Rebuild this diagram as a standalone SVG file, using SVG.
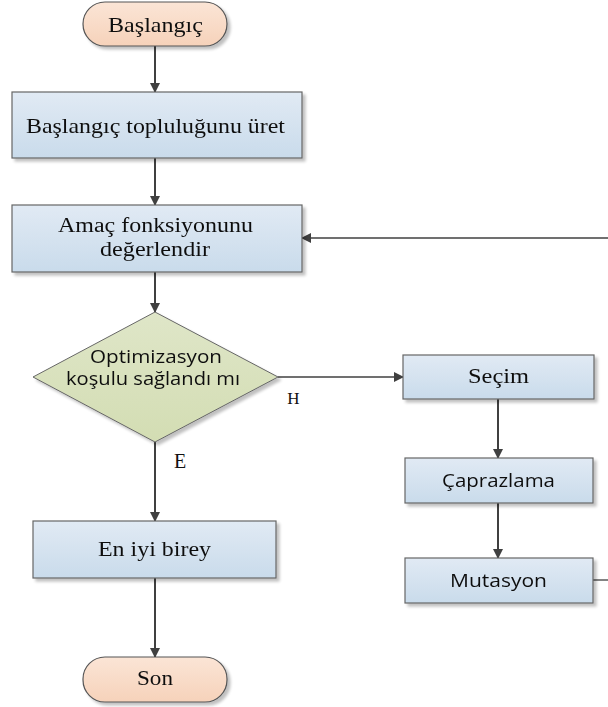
<svg xmlns="http://www.w3.org/2000/svg" width="608" height="707" viewBox="0 0 608 707">
<defs>
<linearGradient id="gTerm" x1="0" y1="0" x2="0" y2="1">
<stop offset="0" stop-color="#fbe5d6"/>
<stop offset="1" stop-color="#f6d2ba"/>
</linearGradient>
<linearGradient id="gBox" x1="0" y1="0" x2="0" y2="1">
<stop offset="0" stop-color="#e1eaf4"/>
<stop offset="1" stop-color="#c9dbeb"/>
</linearGradient>
<linearGradient id="gDia" x1="0" y1="0" x2="0" y2="1">
<stop offset="0" stop-color="#dfe6c8"/>
<stop offset="1" stop-color="#d3ddb3"/>
</linearGradient>
<filter id="sh" x="-10%" y="-10%" width="130%" height="140%">
<feGaussianBlur in="SourceAlpha" stdDeviation="1.5"/>
<feOffset dx="3" dy="3" result="b"/>
<feComponentTransfer><feFuncA type="linear" slope="0.25"/></feComponentTransfer>
<feMerge><feMergeNode/><feMergeNode in="SourceGraphic"/></feMerge>
</filter>
<marker id="arr" markerWidth="10" markerHeight="10" refX="9" refY="5" orient="auto" markerUnits="userSpaceOnUse">
<path d="M0,0 L10,5 L0,10 Z" fill="#404040"/>
</marker>
</defs>
<style>
.term{fill:url(#gTerm);stroke:#555;stroke-width:1.2}
.box{fill:url(#gBox);stroke:#666;stroke-width:1.2}
.dia{fill:url(#gDia);stroke:#666;stroke-width:1}
.serif{font-family:"Liberation Serif","Times New Roman",serif;fill:#111;text-anchor:middle}
.sans{font-family:"Open Sans","Noto Sans","Liberation Sans",sans-serif;fill:#111;text-anchor:middle}
.con{fill:none;stroke:#404040;stroke-width:2}
.thin{fill:none;stroke:#404040;stroke-width:1.3}
</style>
<g id="connectors">
<line class="con" x1="155" y1="46" x2="155" y2="92" marker-end="url(#arr)"/>
<line class="con" x1="155" y1="158" x2="155" y2="205" marker-end="url(#arr)"/>
<line class="con" x1="155" y1="272" x2="155" y2="312" marker-end="url(#arr)"/>
<line class="con" x1="155" y1="442" x2="155" y2="521" marker-end="url(#arr)"/>
<line class="con" x1="155" y1="578" x2="155" y2="657" marker-end="url(#arr)"/>
<line class="thin" x1="278" y1="377" x2="403" y2="377" marker-end="url(#arr)"/>
<line class="con" x1="498" y1="399" x2="498" y2="458" marker-end="url(#arr)"/>
<line class="con" x1="498" y1="503" x2="498" y2="558" marker-end="url(#arr)"/>
<line class="thin" x1="593" y1="580" x2="608" y2="580"/>
<line class="thin" x1="608" y1="238" x2="302" y2="238" marker-end="url(#arr)"/>
<text class="serif" x="293.5" y="404" font-size="17">H</text>
<text class="serif" x="180" y="468" font-size="20">E</text>
</g>
<g id="start" filter="url(#sh)">
<rect class="term" x="83" y="2" width="144" height="44" rx="22" ry="22"/>
<text class="serif" x="155.5" y="32" font-size="22" textLength="95" lengthAdjust="spacingAndGlyphs">Başlangıç</text>
</g>
<g id="init" filter="url(#sh)">
<rect class="box" x="12" y="92" width="290" height="66"/>
<text class="serif" x="155.5" y="133" font-size="22" textLength="259" lengthAdjust="spacingAndGlyphs">Başlangıç topluluğunu üret</text>
</g>
<g id="evaluate" filter="url(#sh)">
<rect class="box" x="12" y="205" width="290" height="67"/>
<text class="serif" x="155.5" y="232" font-size="20" textLength="195" lengthAdjust="spacingAndGlyphs">Amaç fonksiyonunu</text>
<text class="serif" x="155" y="256" font-size="20" textLength="110" lengthAdjust="spacingAndGlyphs">değerlendir</text>
</g>
<g id="decision" filter="url(#sh)">
<polygon class="dia" points="155,312 278,377 155,442 33,377"/>
<text class="sans" x="156" y="363" font-size="18" textLength="132" lengthAdjust="spacingAndGlyphs">Optimizasyon</text>
<text class="sans" x="153" y="385" font-size="18" textLength="174" lengthAdjust="spacingAndGlyphs">koşulu sağlandı mı</text>
</g>
<g id="secim" filter="url(#sh)">
<rect class="box" x="403" y="355" width="191" height="44"/>
<text class="serif" x="498.5" y="383" font-size="22" textLength="61" lengthAdjust="spacingAndGlyphs">Seçim</text>
</g>
<g id="caprazlama" filter="url(#sh)">
<rect class="box" x="405" y="458" width="188" height="45"/>
<text class="sans" x="498.5" y="487" font-size="18" textLength="113" lengthAdjust="spacingAndGlyphs">Çaprazlama</text>
</g>
<g id="mutasyon" filter="url(#sh)">
<rect class="box" x="405" y="558" width="188" height="45"/>
<text class="sans" x="498.5" y="587" font-size="18" textLength="97" lengthAdjust="spacingAndGlyphs">Mutasyon</text>
</g>
<g id="best" filter="url(#sh)">
<rect class="box" x="33" y="521" width="243" height="57"/>
<text class="serif" x="154.5" y="556" font-size="22" textLength="113" lengthAdjust="spacingAndGlyphs">En iyi birey</text>
</g>
<g id="end" filter="url(#sh)">
<rect class="term" x="83" y="657" width="144" height="45" rx="22" ry="22"/>
<text class="serif" x="155" y="685" font-size="22" textLength="36" lengthAdjust="spacingAndGlyphs">Son</text>
</g>
</svg>
